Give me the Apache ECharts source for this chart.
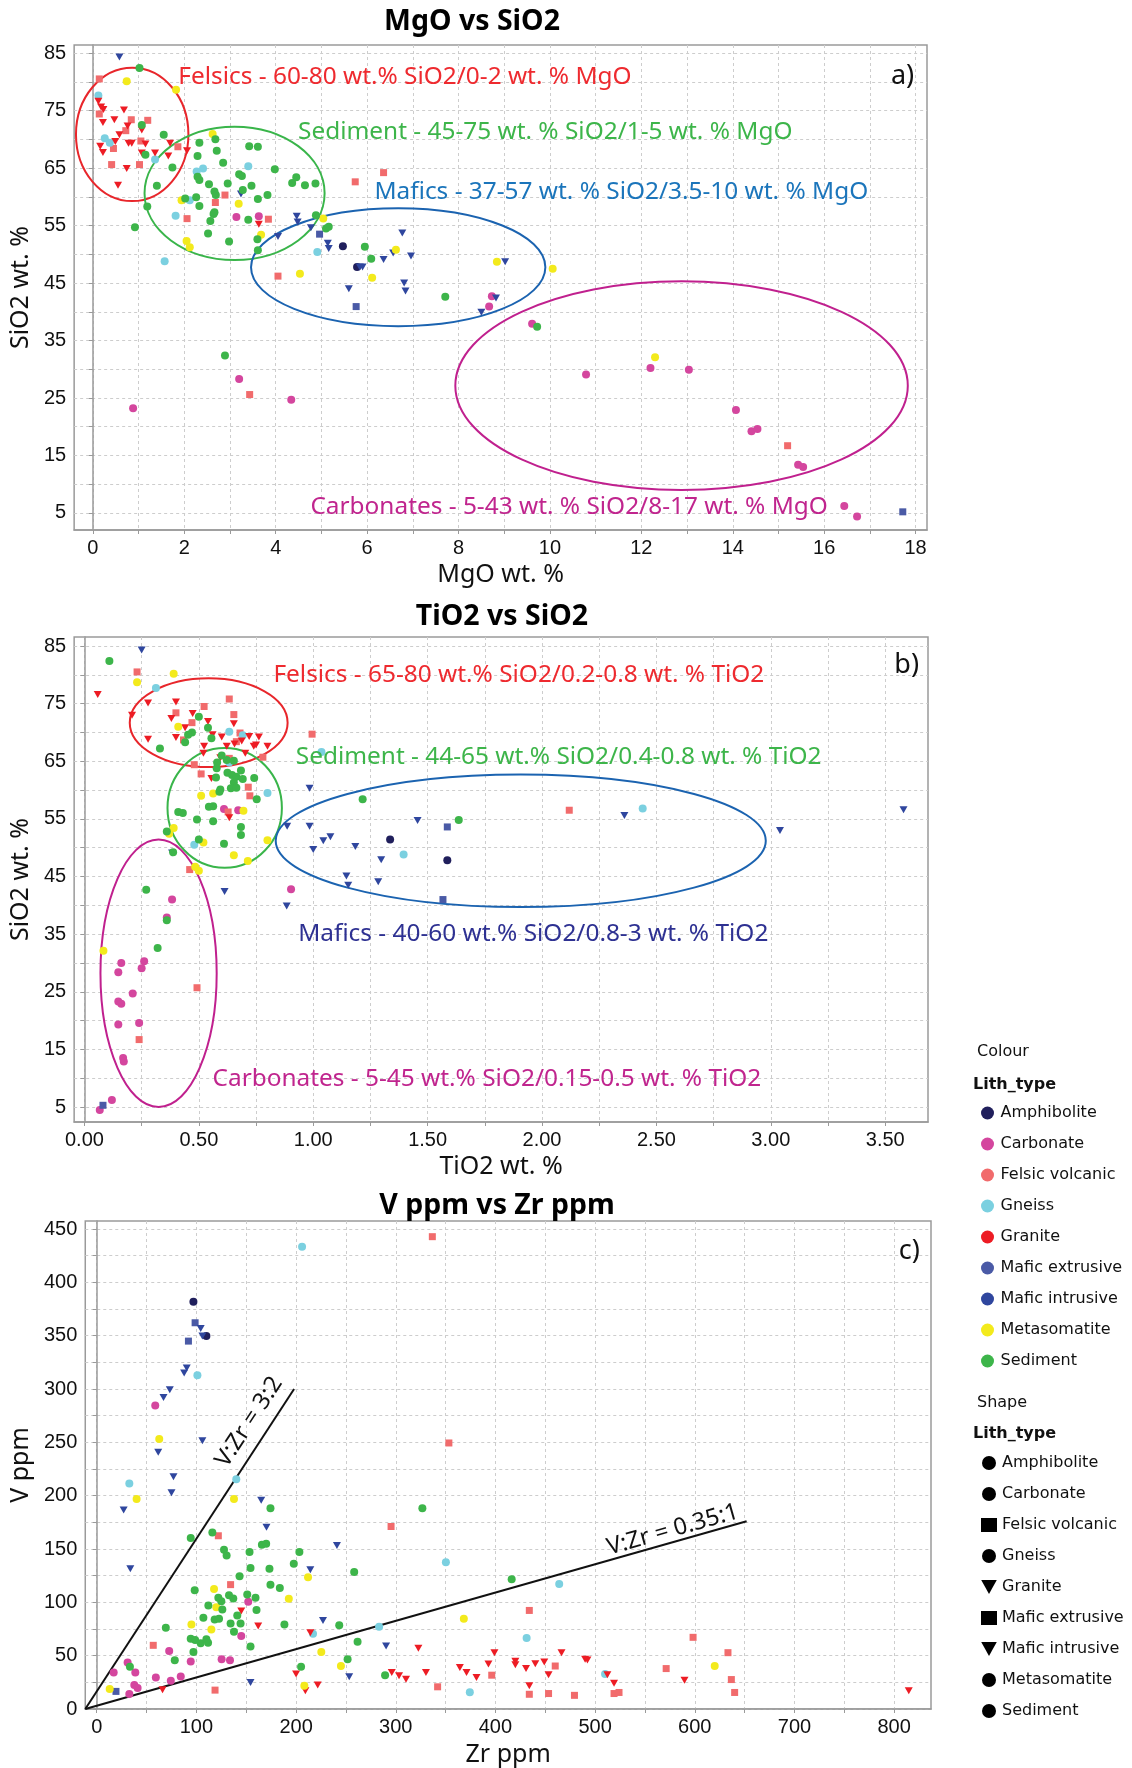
<!DOCTYPE html>
<html>
<head>
<meta charset="utf-8">
<title>MgO / TiO2 / V vs SiO2 / Zr</title>
<script src="https://cdn.jsdelivr.net/npm/echarts@6/dist/echarts.min.js"></script>
<style>
  html, body { margin: 0; padding: 0; background: #fff; }
  #chart { width: 1132px; height: 1768px; }
</style>
</head>
<body>
<div id="chart"></div>
<script>
// lithology types, in legend order
const lithNames = ["Amphibolite", "Carbonate", "Felsic volcanic", "Gneiss", "Granite",
  "Mafic extrusive", "Mafic intrusive", "Metasomatite", "Sediment"];
const lithColors = ["#201f5c", "#d4469e", "#f16b6c", "#7bd0e0", "#ed1c24",
  "#4a5aa6", "#2f469e", "#f3ea1c", "#3db54a"];
const triangleDown = "path://M0,0L10,0L5,9Z";
const lithShapes = ["circle", "circle", "rect", "circle", triangleDown,
  "rect", triangleDown, "circle", "circle"];

// ---- a) MgO (x) vs SiO2 (y), wt.%
const aAmph = [[5.47, 51.4], [5.78, 47.8]];
const aCarb = [[3.14, 56.5], [3.63, 56.6], [8.73, 42.7], [8.67, 40.9], [9.61, 37.9], [3.2, 28.3], [4.34, 24.7],
  [0.88, 23.2], [10.79, 29.1], [12.2, 30.2], [13.04, 29.9], [14.07, 22.9], [14.41, 19.2], [14.54, 19.6],
  [15.43, 13.4], [15.54, 13.0], [16.44, 6.2], [16.72, 4.4]];
const aFelsic = [[0.14, 80.5], [0.14, 74.4], [0.84, 73.4], [1.2, 73.3], [0.72, 71.5], [1.05, 69.7], [0.45, 68.4],
  [0.41, 65.6], [1.02, 65.6], [1.86, 68.7], [2.06, 56.2], [2.68, 59.0], [2.89, 60.3], [3.84, 56.1], [4.05, 46.2],
  [5.74, 62.6], [6.36, 64.2], [3.43, 25.6], [15.2, 16.7]];
const aGneiss = [[0.12, 77.6], [0.26, 70.2], [0.37, 69.4], [1.36, 66.5], [2.27, 64.4], [2.41, 64.9], [2.12, 59.4],
  [1.81, 56.7], [3.4, 65.3], [1.57, 48.8], [4.91, 50.4]];
const aGranite = [[0.12, 76.6], [0.18, 75.6], [0.23, 75.2], [0.68, 75.1], [0.22, 72.9], [0.47, 73.4], [0.76, 72.3],
  [0.58, 70.8], [1.07, 71.6], [0.49, 69.6], [0.78, 69.3], [0.85, 69.3], [1.15, 69.2], [0.16, 68.8], [0.22, 67.7],
  [1.07, 67.6], [1.36, 67.6], [1.65, 67.1], [1.69, 69.3], [0.74, 64.9], [0.55, 62.0], [2.06, 68.0], [3.63, 55.2]];
const aMaficExt = [[4.96, 53.5], [5.76, 40.9], [17.72, 5.2]];
const aMaficInt = [[0.58, 84.3], [3.24, 60.5], [4.46, 56.6], [4.48, 55.6], [4.77, 54.6], [4.05, 53.1], [5.14, 51.9],
  [5.16, 51.0], [5.84, 47.8], [5.9, 47.8], [5.6, 44.0], [6.36, 49.1], [6.57, 50.2], [6.77, 53.7], [6.96, 49.7],
  [6.81, 45.0], [6.84, 43.6], [9.02, 48.7], [8.82, 42.4], [8.5, 39.9]];
const aMeta = [[0.74, 80.1], [1.82, 78.6], [2.62, 70.9], [1.94, 59.4], [3.19, 58.8], [2.05, 52.3], [2.12, 51.2],
  [3.68, 53.4], [5.04, 56.2], [4.53, 46.6], [6.11, 45.9], [6.63, 50.8], [8.84, 48.7], [10.06, 47.5], [12.3, 32.1]];
const aSed = [[1.02, 82.4], [1.07, 72.5], [1.55, 70.8], [1.15, 67.3], [1.74, 65.1], [1.4, 61.9], [1.19, 58.3],
  [0.92, 54.7], [2.33, 69.4], [2.68, 70.0], [2.71, 68.0], [2.29, 67.1], [2.85, 65.9], [2.29, 63.5], [2.33, 62.9],
  [2.54, 62.2], [2.66, 60.9], [2.69, 60.3], [2.95, 62.3], [3.2, 63.9], [3.26, 63.6], [3.47, 61.9], [3.42, 68.8],
  [3.61, 68.7], [3.28, 61.2], [3.61, 59.6], [3.82, 60.3], [3.98, 64.8], [4.36, 62.4], [4.45, 63.4], [4.64, 62.0],
  [4.87, 62.3], [2.02, 59.7], [2.26, 59.9], [2.33, 58.4], [2.66, 57.3], [2.64, 57.0], [2.57, 55.8], [3.4, 56.0],
  [2.52, 53.6], [2.98, 52.2], [3.6, 52.6], [3.61, 50.7], [4.88, 56.8], [5.1, 54.5], [5.16, 54.8], [5.95, 51.3],
  [6.09, 49.2], [7.71, 42.6], [2.89, 32.4], [9.72, 37.4]];

// ---- b) TiO2 (x) vs SiO2 (y), wt.%
const bAmph = [[1.336, 51.4], [1.586, 47.8]];
const bCarb = [[0.61, 56.7], [0.672, 56.5], [0.383, 41.0], [0.36, 37.9], [0.903, 42.8], [0.161, 30.0],
  [0.148, 28.4], [0.261, 30.3], [0.25, 29.1], [0.211, 24.7], [0.148, 23.3], [0.161, 22.9], [0.148, 19.3],
  [0.239, 19.6], [0.169, 13.5], [0.172, 12.9], [0.12, 6.2], [0.067, 4.5]];
const bFelsic = [[0.23, 80.5], [0.40, 73.4], [0.433, 68.7], [0.47, 71.7], [0.523, 74.5], [0.633, 75.8],
  [0.653, 73.1], [0.664, 68.4], [0.68, 69.9], [0.78, 65.7], [0.48, 64.4], [0.51, 62.8], [0.633, 65.5],
  [0.628, 56.2], [0.716, 60.5], [0.723, 59.0], [0.46, 46.2], [0.995, 69.7], [2.119, 56.5], [0.239, 16.7],
  [0.492, 25.7]];
const bGneiss = [[0.3125, 77.7], [0.633, 70.1], [0.692, 69.5], [0.633, 64.8], [0.80, 59.5], [0.48, 50.5],
  [1.036, 66.6], [1.395, 48.8], [2.44, 56.8]];
const bGranite = [[0.058, 76.6], [0.208, 73.0], [0.278, 75.1], [0.278, 68.8], [0.40, 75.3], [0.38, 72.4],
  [0.44, 70.8], [0.40, 69.1], [0.473, 73.3], [0.54, 71.9], [0.523, 67.6], [0.56, 69.6], [0.60, 69.2],
  [0.653, 71.5], [0.622, 67.6], [0.656, 68.0], [0.6875, 68.5], [0.72, 69.3], [0.7625, 69.2], [0.74, 67.6],
  [0.75, 67.8], [0.80, 67.6], [0.703, 66.4], [0.52, 66.4], [0.594, 65.6], [0.555, 62.0], [0.633, 55.2]];
const bMaficExt = [[1.586, 53.6], [1.567, 41.0], [0.081, 5.3]];
const bMaficInt = [[0.25, 84.3], [0.383, 49.1], [0.6125, 42.4], [0.884, 39.9], [0.984, 60.3], [0.886, 53.7],
  [0.984, 53.7], [1.0, 49.7], [1.044, 51.2], [1.075, 51.9], [1.184, 50.2], [1.297, 47.9], [1.145, 45.1],
  [1.153, 43.5], [1.284, 44.1], [1.456, 54.7], [2.36, 55.6], [3.04, 53.0], [3.58, 56.6]];
const bMeta = [[0.39, 80.2], [0.23, 78.7], [0.41, 71.0], [0.51, 59.0], [0.5625, 59.4], [0.695, 56.4],
  [0.39, 53.4], [0.37, 52.4], [0.52, 50.9], [0.80, 51.3], [0.653, 48.7], [0.714, 47.7], [0.484, 46.7],
  [0.5, 46.0], [0.083, 32.1]];
const bSed = [[0.109, 82.4], [0.5, 72.7], [0.54, 70.8], [0.47, 70.0], [0.453, 69.6], [0.44, 68.3], [0.33, 67.2],
  [0.555, 69.0], [0.60, 66.0], [0.58, 64.8], [0.622, 65.2], [0.653, 65.1], [0.578, 63.8], [0.625, 63.0],
  [0.645, 62.6], [0.684, 63.4], [0.664, 62.3], [0.692, 61.9], [0.742, 62.1], [0.653, 61.3], [0.64, 60.3],
  [0.594, 60.1], [0.59, 59.7], [0.664, 60.4], [0.575, 62.2], [0.753, 58.4], [0.5625, 57.2], [0.544, 57.1],
  [0.41, 56.2], [0.43, 56.0], [0.492, 54.9], [0.5625, 54.6], [0.684, 53.6], [0.684, 52.2], [0.5, 51.4],
  [0.61, 50.7], [0.36, 52.8], [0.3875, 49.2], [0.27, 42.7], [0.36, 37.4], [0.32, 32.6], [1.216, 58.4],
  [1.636, 54.8]];

// ---- c) Zr ppm (x) vs V ppm (y)
const cAmph = [[97, 381.9], [110, 349.6]];
const cCarb = [[58.7, 284.6], [152, 100.5], [145, 68.4], [72.7, 54.4], [125.3, 46.7], [133.7, 45.7], [94.3, 44.5],
  [31, 43.5], [17, 34.2], [38.7, 34.2], [59.3, 29.5], [74.3, 26.4], [84.3, 30.5], [37.7, 22.4], [41, 19.6],
  [32.7, 14.0]];
const cFelsic = [[336.7, 442.8], [353.3, 249.4], [122, 162.4], [295.3, 171.1], [134.3, 116.6], [56.7, 59.7],
  [118.7, 17.7], [342, 20.8], [434, 92.4], [598.3, 67.2], [633.3, 52.8], [571.3, 37.9], [636.7, 27.6],
  [640, 15.5], [396.3, 31.7], [434, 13.8], [453.3, 14.5], [460, 40.3], [479.3, 12.8], [519, 14.5], [524, 15.5]];
const cGneiss = [[206, 433.4], [101, 312.8], [32.7, 211.5], [140, 215.5], [350.3, 137.5], [217, 70.6],
  [283.3, 77.1], [374.3, 15.6], [464, 117.2], [431.3, 66.6], [510, 32.8]];
const cGranite = [[145, 91.8], [162, 77.8], [66, 18.0], [214.3, 71.5], [200, 32.7], [209.3, 17.1], [221.7, 22.4],
  [296, 34.2], [303.3, 31.1], [310.3, 28.0], [322.7, 56.9], [330.3, 34.2], [364.3, 38.9], [371, 34.2],
  [381, 29.5], [393, 42.1], [399, 52.8], [420, 44.8], [420, 41.4], [430.7, 37.9], [440, 42.4], [434, 21.7],
  [449, 44.1], [453.3, 32.1], [466.3, 52.8], [490, 46.6], [492.3, 45.9], [512.3, 32.1], [519, 24.1],
  [589.7, 26.9], [814.7, 17.2]];
const cMaficExt = [[98.7, 362.1], [92, 344.9], [19.3, 16.5]];
const cMaficInt = [[104.3, 356.8], [106, 349.6], [90.3, 319.7], [87.7, 315.0], [73.3, 299.3], [67, 292.1],
  [106, 251.6], [61.7, 240.6], [77, 217.7], [75, 202.8], [27, 186.6], [33.7, 131.6], [165, 195.6],
  [170.3, 170.5], [241, 153.3], [214.3, 130.6], [154.3, 24.9], [227, 83.0], [253.3, 30.2], [290.3, 59.1]];
const cMeta = [[62.7, 253.2], [40, 196.9], [137.7, 196.9], [212, 123.5], [192.7, 103.3], [117.7, 112.6],
  [120, 95.5], [95, 79.3], [115, 74.6], [13, 18.7], [225.3, 53.5], [245, 40.4], [208.3, 21.8], [368.3, 84.6],
  [620, 40.3]];
const cSed = [[174.3, 188.2], [94.3, 160.2], [116, 165.5], [127.7, 149.3], [130.3, 144.0], [153.3, 147.1],
  [165.7, 154.0], [170, 155.0], [154.3, 132.2], [173.3, 131.6], [143.3, 124.4], [197.7, 136.2], [203.3, 147.1],
  [258.3, 128.5], [326.7, 188.2], [174.3, 116.6], [183.7, 113.5], [98.3, 111.4], [122, 104.2], [125, 101.1],
  [132.7, 106.7], [137, 103.6], [151, 107.3], [159.3, 104.2], [112, 97.0], [126, 93.3], [160.3, 92.7],
  [141, 87.7], [107, 85.5], [118.3, 84.0], [122.7, 84.6], [134.3, 80.2], [144.3, 80.2], [69.3, 76.2],
  [188.3, 79.3], [137.7, 72.5], [94.3, 65.9], [98.7, 64.7], [104.3, 61.6], [110, 65.3], [111.7, 62.2],
  [154.3, 58.5], [97, 53.5], [78.3, 45.7], [33.3, 39.5], [243.3, 78.4], [261.7, 63.1], [205, 39.5],
  [251.7, 46.7], [289.3, 31.7], [416.3, 121.7]];

// tick positions / labelled ticks
const aXTicks = [0, 1, 2, 3, 4, 5, 6, 7, 8, 9, 10, 11, 12, 13, 14, 15, 16, 17, 18];
const aXLabels = [0, 2, 4, 6, 8, 10, 12, 14, 16, 18];
const sio2Ticks = [5, 10, 15, 20, 25, 30, 35, 40, 45, 50, 55, 60, 65, 70, 75, 80, 85];
const sio2Labels = [5, 15, 25, 35, 45, 55, 65, 75, 85];
const bXTicks = [0, 0.25, 0.5, 0.75, 1, 1.25, 1.5, 1.75, 2, 2.25, 2.5, 2.75, 3, 3.25, 3.5];
const bXLabels = [0, 0.5, 1, 1.5, 2, 2.5, 3, 3.5];
const cXTicks = [0, 50, 100, 150, 200, 250, 300, 350, 400, 450, 500, 550, 600, 650, 700, 750, 800];
const cXLabels = [0, 100, 200, 300, 400, 500, 600, 700, 800];
const cYTicks = [0, 25, 50, 75, 100, 125, 150, 175, 200, 225, 250, 275, 300, 325, 350, 375, 400, 425, 450];
const cYLabels = [0, 50, 100, 150, 200, 250, 300, 350, 400, 450];

// field ellipses: [centre x, centre y, semi-axis x, semi-axis y]
const aEllipses = [[0.86, 70.85, 1.23, 11.6], [3.1, 60.6, 1.97, 11.6], [6.68, 47.75, 3.22, 10.25], [12.88, 27.15, 4.95, 18.15]];
const aEllipseColors = ["#e8262b", "#39b54a", "#1b63b0", "#c0208e"];
const bEllipses = [[0.543, 71.7, 0.345, 7.7], [0.613, 56.9, 0.25, 10.4], [1.907, 51.2, 1.071, 11.5], [0.324, 28.2, 0.254, 23.2]];
const bEllipseColors = ["#e8262b", "#39b54a", "#1b63b0", "#c0208e"];

// field labels: [x, y] of the left end, text, colour
const aNotePos = [[1.87, 80.9], [4.49, 71.3], [6.16, 60.9], [4.76, 6.0], [17.46, 81.0]];
const aNoteText = ["Felsics - 60-80 wt.% SiO2/0-2 wt. % MgO", "Sediment - 45-75 wt. % SiO2/1-5 wt. % MgO",
  "Mafics - 37-57 wt. % SiO2/3.5-10 wt. % MgO", "Carbonates - 5-43 wt. % SiO2/8-17 wt. % MgO", "a)"];
const aNoteColor = ["#ee2a2f", "#3db54a", "#1b75bb", "#c0258e", "#111"];
const bNotePos = [[0.826, 80.0], [0.924, 65.8], [0.934, 35.1], [0.56, 9.8], [3.54, 81.7]];
const bNoteText = ["Felsics - 65-80 wt.% SiO2/0.2-0.8 wt. % TiO2", "Sediment - 44-65 wt.% SiO2/0.4-0.8 wt. % TiO2",
  "Mafics - 40-60 wt.% SiO2/0.8-3 wt. % TiO2", "Carbonates - 5-45 wt.% SiO2/0.15-0.5 wt. % TiO2", "b)"];
const bNoteColor = ["#ee2a2f", "#3db54a", "#2e3192", "#c0258e", "#111"];

// ratio lines in c) and their labels
const ratioLines = [[[-11.5, 0], [198, 300]], [[-11.5, 0], [652, 176]]];
const ratioLabelPos = [[153, 269], [578, 168]];
const ratioLabelText = ["V:Zr = 3:2", "V:Zr = 0.35:1"];

const aSets = [aAmph, aCarb, aFelsic, aGneiss, aGranite, aMaficExt, aMaficInt, aMeta, aSed];
const bSets = [bAmph, bCarb, bFelsic, bGneiss, bGranite, bMaficExt, bMaficInt, bMeta, bSed];
const cSets = [cAmph, cCarb, cFelsic, cGneiss, cGranite, cMaficExt, cMaficInt, cMeta, cSed];

const chart = echarts.init(document.getElementById("chart"));

const tickFont = { fontFamily: "Liberation Sans", fontSize: 20, color: "#111" };
const nameFont = { fontFamily: "Noto Sans", fontSize: 25, color: "#111" };

function makeAxis(grid, min, max, ticks, labels, name, gap, fmt) {
  return {
    type: "value",
    gridIndex: grid,
    min: min,
    max: max,
    name: name,
    nameLocation: "middle",
    nameGap: gap,
    nameTextStyle: nameFont,
    axisLine: { show: true, lineStyle: { color: "#9a9a9a", width: 1.5 } },
    axisTick: { show: true, length: 4, customValues: ticks, lineStyle: { color: "#9a9a9a" } },
    axisLabel: Object.assign({ customValues: labels, margin: 8, formatter: fmt || "{value}" }, tickFont),
    splitLine: { show: true, lineStyle: { color: "#cdcdcd", width: 1, type: [3, 3] } },
  };
}

function symbolSize(i) {
  if (lithShapes[i] === "rect") return 7;
  if (lithShapes[i] === triangleDown) return [8, 7];
  return 8;
}

const series = [];

// ellipses go under the points
function ellipseSeries(grid, list, colors) {
  return {
    type: "custom",
    xAxisIndex: grid,
    yAxisIndex: grid,
    silent: true,
    z: 1,
    data: list,
    renderItem: (params, api) => {
      const c = api.coord([api.value(0), api.value(1)]);
      const s = api.size([api.value(2), api.value(3)]);
      return {
        type: "ellipse",
        shape: { cx: c[0], cy: c[1], rx: s[0], ry: s[1] },
        style: { fill: null, stroke: colors[params.dataIndex], lineWidth: 2 },
      };
    },
  };
}

function noteSeries(grid, pos, texts, colors) {
  return {
    type: "custom",
    xAxisIndex: grid,
    yAxisIndex: grid,
    silent: true,
    z: 4,
    data: pos,
    renderItem: (params, api) => {
      const c = api.coord([api.value(0), api.value(1)]);
      const isTag = texts[params.dataIndex].length < 3;
      return {
        type: "text",
        x: c[0],
        y: c[1],
        style: {
          text: texts[params.dataIndex],
          fill: colors[params.dataIndex],
          font: isTag ? '27px "Noto Sans"' : '24.4px "Noto Sans"',
          align: "left",
          verticalAlign: "middle",
        },
      };
    },
  };
}

series.push(ellipseSeries(0, aEllipses, aEllipseColors));
series.push(ellipseSeries(1, bEllipses, bEllipseColors));

[aSets, bSets, cSets].forEach((sets, g) => {
  sets.forEach((pts, i) => {
    series.push({
      type: "scatter",
      name: lithNames[i],
      xAxisIndex: g,
      yAxisIndex: g,
      data: pts,
      symbol: lithShapes[i],
      symbolSize: symbolSize(i),
      itemStyle: { color: lithColors[i], opacity: 1 },
      z: 3,
    });
  });
});

series.push(noteSeries(0, aNotePos, aNoteText, aNoteColor));
series.push(noteSeries(1, bNotePos, bNoteText, bNoteColor));

ratioLines.forEach((ln) => {
  series.push({
    type: "line",
    xAxisIndex: 2,
    yAxisIndex: 2,
    data: ln,
    symbol: "none",
    silent: true,
    z: 2,
    lineStyle: { color: "#111", width: 2 },
  });
});

series.push({
  type: "custom",
  xAxisIndex: 2,
  yAxisIndex: 2,
  silent: true,
  z: 4,
  data: ratioLabelPos,
  renderItem: (params, api) => {
    const i = params.dataIndex;
    const p0 = api.coord(ratioLines[i][0]);
    const p1 = api.coord(ratioLines[i][1]);
    const c = api.coord([api.value(0), api.value(1)]);
    return {
      type: "text",
      x: c[0],
      y: c[1],
      rotation: Math.atan2(p0[1] - p1[1], p1[0] - p0[0]),
      style: { text: ratioLabelText[i], fill: "#111", font: '23.5px "Noto Sans"', align: "center", verticalAlign: "middle" },
    };
  },
});
series.push(noteSeries(2, [[804.6, 429]], ["c)"], ["#111"]));

const legendText = { fontFamily: "DejaVu Sans", fontSize: 16, color: "#111", lineHeight: 18 };

const option = {
  animation: false,
  backgroundColor: "#fff",
  grid: [
    { left: 70, top: 45, width: 857, height: 485, show: true, borderColor: "#9a9a9a", borderWidth: 1.5 },
    { left: 72, top: 637, width: 856, height: 485, show: true, borderColor: "#9a9a9a", borderWidth: 1.5 },
    { left: 81, top: 1221, width: 850, height: 489, show: true, borderColor: "#9a9a9a", borderWidth: 1.5 },
  ],
  xAxis: [
    makeAxis(0, -0.41, 18.25, aXTicks, aXLabels, "MgO wt. %", 32),
    makeAxis(1, -0.045, 3.687, bXTicks, bXLabels, "TiO2 wt. %", 32, (v) => v.toFixed(2)),
    makeAxis(2, -11.5, 837, cXTicks, cXLabels, "Zr ppm", 33),
  ],
  yAxis: [
    makeAxis(0, 2.04, 86.4, sio2Ticks, sio2Labels, "SiO2 wt. %", 30),
    makeAxis(1, 2.4, 86.56, sio2Ticks, sio2Labels, "SiO2 wt. %", 30),
    makeAxis(2, 0, 457.5, cYTicks, cYLabels, "V ppm", 44),
  ],
  legend: [
    {
      orient: "vertical",
      left: 981,
      top: 1104,
      padding: 0,
      itemGap: 13,
      itemWidth: 16,
      itemHeight: 13,
      selectedMode: false,
      textStyle: legendText,
      data: lithNames.map((n) => ({ name: n, icon: "circle" })),
    },
    {
      orient: "vertical",
      left: 981,
      top: 1454,
      padding: 0,
      itemGap: 13,
      itemWidth: 16,
      itemHeight: 14,
      selectedMode: false,
      textStyle: legendText,
      data: lithNames.map((n, i) => ({ name: n, icon: lithShapes[i], itemStyle: { color: "#000" } })),
    },
  ],
  graphic: [
    { type: "text", x: 472, y: 22, style: { text: "MgO vs SiO2", font: 'bold 28.5px "Noto Sans"', fill: "#000", align: "center", verticalAlign: "middle" } },
    { type: "text", x: 502, y: 617, style: { text: "TiO2 vs SiO2", font: 'bold 28.5px "Noto Sans"', fill: "#000", align: "center", verticalAlign: "middle" } },
    { type: "text", x: 497, y: 1206, style: { text: "V ppm vs Zr ppm", font: 'bold 28.5px "Noto Sans"', fill: "#000", align: "center", verticalAlign: "middle" } },
    { type: "text", x: 977, y: 1052, style: { text: "Colour", font: '16px "DejaVu Sans"', fill: "#111", verticalAlign: "middle" } },
    { type: "text", x: 973, y: 1085, style: { text: "Lith_type", font: 'bold 16px "DejaVu Sans"', fill: "#111", verticalAlign: "middle" } },
    { type: "text", x: 977, y: 1403, style: { text: "Shape", font: '16px "DejaVu Sans"', fill: "#111", verticalAlign: "middle" } },
    { type: "text", x: 973, y: 1434, style: { text: "Lith_type", font: 'bold 16px "DejaVu Sans"', fill: "#111", verticalAlign: "middle" } },
  ],
  series: series,
};

chart.setOption(option);
window.addEventListener("resize", () => chart.resize());
</script>
</body>
</html>
